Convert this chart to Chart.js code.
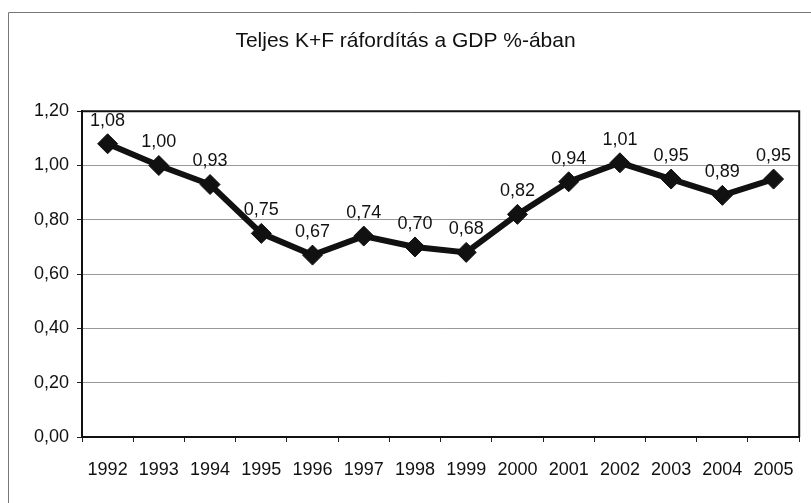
<!DOCTYPE html>
<html>
<head>
<meta charset="utf-8">
<script src="https://cdn.jsdelivr.net/npm/chart.js@4/dist/chart.umd.min.js"></script>
<style>
  html, body { margin: 0; padding: 0; background: #fff; }
  #wrap { width: 811px; height: 503px; }
</style>
</head>
<body>
<div id="wrap"><canvas id="kfChart" width="811" height="503"></canvas></div>
<script>
// K+F data
var years = ['1992', '1993', '1994', '1995', '1996', '1997', '1998', '1999', '2000', '2001', '2002', '2003', '2004', '2005'];
var gdpShare = [1.08, 1.00, 0.93, 0.75, 0.67, 0.74, 0.70, 0.68, 0.82, 0.94, 1.01, 0.95, 0.89, 0.95];
var chartTitle = 'Teljes K+F ráfordítás a GDP %-ában';

var fontFam = '"Liberation Sans", Arial, sans-serif';

function huNum(v) {
    return v.toFixed(2).replace('.', ',');
}

// frame round the whole chart + box round plot area
var framePlugin = {
    id: 'frame',
    beforeDraw: function (chart) {
        var c = chart.ctx;
        c.save();
        c.strokeStyle = '#777';
        c.lineWidth = 1;
        c.beginPath();
        c.moveTo(8.5, 503);
        c.lineTo(8.5, 12.5);
        c.lineTo(811, 12.5);
        c.stroke();
        c.restore();
    },
    afterDraw: function (chart) {
        var a = chart.chartArea;
        var c = chart.ctx;
        c.save();
        c.strokeStyle = '#111';
        c.lineWidth = 2;
        c.beginPath();
        c.moveTo(a.left, a.top);
        c.lineTo(a.right, a.top);
        c.lineTo(a.right, a.bottom);
        c.stroke();
        c.restore();
    }
};

// value labels above the points
var valueLabels = {
    id: 'valueLabels',
    afterDatasetsDraw: function (chart) {
        var c = chart.ctx;
        var meta = chart.getDatasetMeta(0);
        c.save();
        c.font = '18px ' + fontFam;
        c.fillStyle = '#111';
        c.textAlign = 'center';
        c.textBaseline = 'middle';
        meta.data.forEach(function (pt, i) {
            c.fillText(huNum(gdpShare[i]), pt.x, pt.y - 23);
        });
        c.restore();
    }
};

var kfChart = new Chart(document.getElementById('kfChart'), {
    type: 'line',
    plugins: [framePlugin, valueLabels],
    data: {
        labels: years,
        datasets: [
            {
                label: chartTitle,
                data: gdpShare,
                borderColor: '#111',
                backgroundColor: '#111',
                borderWidth: 6,
                lineTension: 0,
                pointStyle: 'rectRot',
                pointRadius: 10,
                pointBackgroundColor: '#111',
                pointBorderColor: '#111',
                pointBorderWidth: 1,
                fill: false
            }
        ]
    },
    options: {
        responsive: false,
        animation: false,
        layout: {
            padding: { left: 8, right: 8, top: 28, bottom: 13 }
        },
        plugins: {
            legend: { display: false },
            tooltip: { enabled: false },
            title: {
                display: true,
                text: chartTitle,
                color: '#111',
                font: { family: fontFam, size: 21, weight: 'normal' },
                padding: { top: 1, bottom: 57 }
            }
        },
        scales: {
            x: {
                offset: true,
                grid: { display: true, drawOnChartArea: false, offset: true, drawTicks: true, tickLength: 5, tickColor: '#222' },
                border: { color: '#111', width: 2 },
                ticks: {
                    color: '#111',
                    padding: 17,
                    maxRotation: 0,
                    font: { family: fontFam, size: 18 }
                },
                afterFit: function (scale) { scale.height = 53; }
            },
            y: {
                min: 0,
                max: 1.2,
                ticks: {
                    stepSize: 0.2,
                    color: '#111',
                    padding: 8,
                    font: { family: fontFam, size: 18 },
                    callback: function (v) { return huNum(v); }
                },
                grid: { color: '#999', lineWidth: 1, tickLength: 5, tickColor: '#222' },
                border: { color: '#111', width: 2 },
                afterFit: function (scale) { scale.width = 74; }
            }
        }
    }
});
</script>
</body>
</html>
